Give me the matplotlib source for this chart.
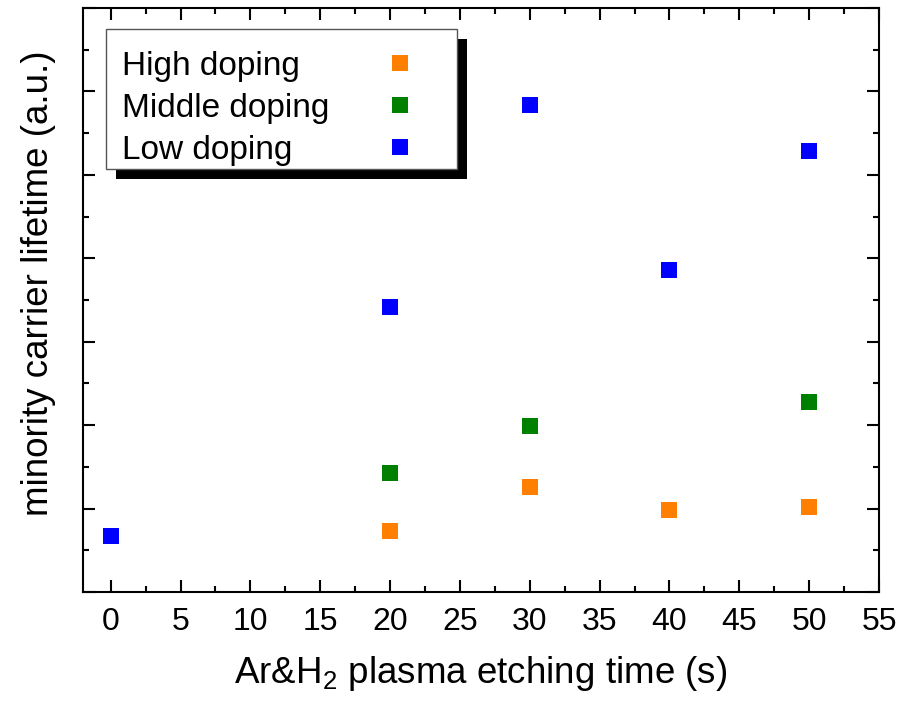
import matplotlib
matplotlib.use('Agg')
import matplotlib.pyplot as plt
from matplotlib.patches import Rectangle
from matplotlib.ticker import MultipleLocator

plt.rcParams['font.family'] = ['Liberation Sans', 'DejaVu Sans']
plt.rcParams['mathtext.default'] = 'regular'

# Datos (eje y en unidades arbitrarias)
t_high = [20, 30, 40, 50]
y_high = [0.73, 1.26, 0.98, 1.02]

t_mid = [20, 30, 50]
y_mid = [1.43, 1.99, 2.28]

t_low = [0, 20, 30, 40, 50]
y_low = [0.67, 3.42, 5.84, 3.86, 5.28]

series = [
    ('High doping', t_high, y_high, '#FF8000'),
    ('Middle doping', t_mid, y_mid, '#008000'),
    ('Low doping', t_low, y_low, '#0000FF'),
]

fig = plt.figure(figsize=(9.15, 7.03), dpi=100)
ax = fig.add_axes([0.0904, 0.158, 0.8703, 0.8306])

for nombre, t, y, color in series:
    ax.plot(t, y, 's', color=color, markersize=12, markeredgewidth=0,
            linestyle='none')

ax.set_xlim(-2, 55)
ax.set_ylim(0, 7)
ax.xaxis.set_major_locator(MultipleLocator(5))
ax.xaxis.set_minor_locator(MultipleLocator(2.5))
ax.yaxis.set_major_locator(MultipleLocator(1))
ax.yaxis.set_minor_locator(MultipleLocator(0.5))
ax.tick_params(which='both', direction='in', top=True, right=True, width=1.5)
ax.tick_params(which='major', length=8.5, labelsize=23, pad=11)
ax.tick_params(which='minor', length=4.5)
ax.tick_params(axis='y', which='both', labelleft=False)
for s in ax.spines.values():
    s.set_linewidth(1.5)

ax.set_xlabel('Ar&H$_2$ plasma etching time (s)', fontsize=26.5, labelpad=12)
ax.set_ylabel('minority carrier lifetime (a.u.)', fontsize=26.5)
ax.yaxis.set_label_coords(-0.033, 0.528)

# Leyenda dibujada a mano: texto a la izquierda, marcador a la derecha
x0, x1, y0, y1 = 0.0293, 0.4700, 0.7243, 0.9640
sx, sy = 0.01256, -0.01712
ax.add_patch(Rectangle((x0 + sx, y0 + sy), x1 - x0, y1 - y0,
                       transform=ax.transAxes, facecolor='black',
                       edgecolor='none', zorder=5, clip_on=False))
ax.add_patch(Rectangle((x0, y0), x1 - x0, y1 - y0, transform=ax.transAxes,
                       facecolor='white', edgecolor='#555555', linewidth=1.0,
                       zorder=6, clip_on=False))
filas = [0.8853, 0.8134, 0.7414]
for (nombre, t, y, color), yb in zip(series, filas):
    ax.text(0.0494, yb, nombre, transform=ax.transAxes, fontsize=24,
            ha='left', va='baseline', zorder=7)
    ax.plot([0.3985], [yb + 0.0205], 's', color=color, markersize=12,
            markeredgewidth=0, transform=ax.transAxes, clip_on=False, zorder=7)

fig.savefig('out.png', dpi=100)
